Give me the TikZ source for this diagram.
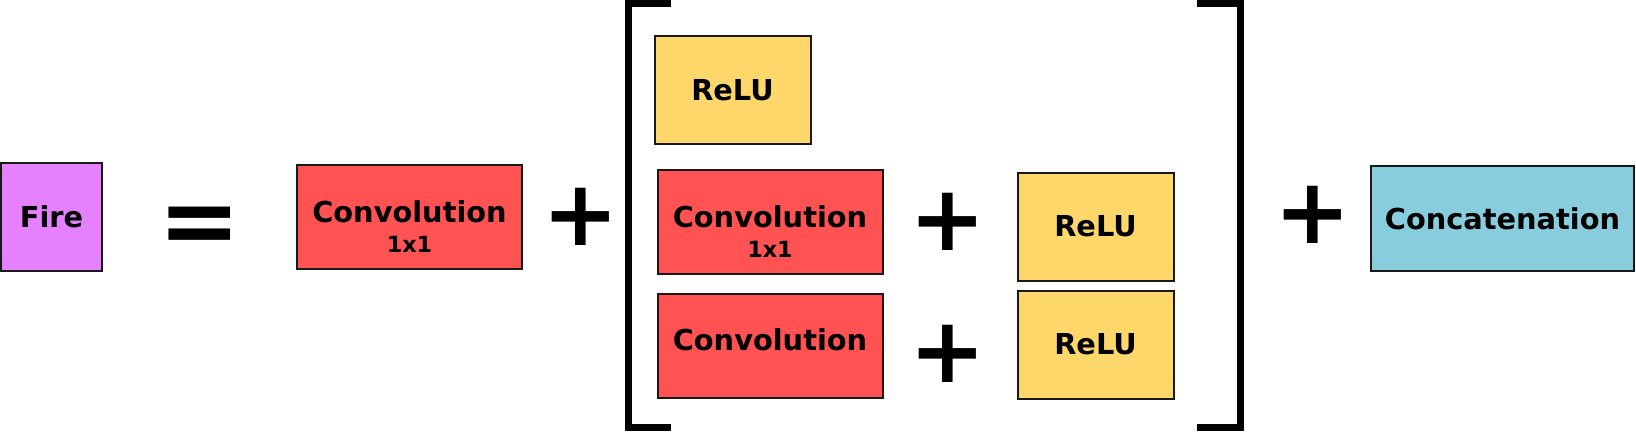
\documentclass[tikz,border=0pt]{standalone}
\usepackage{xcolor}
\usepackage{fontspec}
\setmainfont{DejaVu Sans}
\usetikzlibrary{positioning}

\definecolor{fireViolet}{HTML}{E580FF}
\definecolor{convRed}{HTML}{FF5252}
\definecolor{reluYellow}{HTML}{FDD76A}
\definecolor{concatBlue}{HTML}{87CDDE}

\begin{document}
\begin{tikzpicture}[
        node distance=3cm,
        boxNode/.style={rectangle, draw=black!90, line width=0.04cm, inner sep=0pt,
        align=center, font=\fontsize{16.4}{18}\selectfont\bfseries},
        fireNode/.style={boxNode, fill=fireViolet, minimum width=2.02cm, minimum height=2.16cm},
        convNode/.style={boxNode, fill=convRed, minimum width=4.5cm, minimum height=2.08cm, text depth=0.22cm},
        sizeNode/.style={inner sep=0pt, font=\fontsize{12.7}{14}\selectfont\bfseries},
        reluNode/.style={boxNode, fill=reluYellow, minimum width=3.12cm, minimum height=2.16cm},
        concatNode/.style={boxNode, fill=concatBlue, minimum width=5.26cm, minimum height=2.1cm},
        signNode/.style={inner sep=0pt, font=\fontsize{52}{52}\selectfont\bfseries},
        bracketLine/.style={line width=0.14cm},
    ]
    \useasboundingbox (0,0) rectangle (32.72,8.62);
    \node[fireNode]   (fire)                                                       at (1.03,4.28) {Fire};
    \node[signNode]   (equalsSign) [node distance=2.97cm, right of=fire, yshift=-0.27cm, font=\fontsize{56}{56}\selectfont\bfseries] {=};
    \node[convNode]   (convA)      [node distance=4.19cm, right of=equalsSign, yshift=0.27cm]   {Convolution};
    \node[sizeNode]   (convASize)  [below=0.37cm of convA.center]                               {1x1};
    \node[signNode]   (plusA)      [node distance=3.43cm, right of=convA]                       {+};
    \node[convNode]   (convB)      [node distance=3.78cm, right of=plusA, yshift=-0.1cm]        {Convolution};
    \node[sizeNode]   (convBSize)  [below=0.37cm of convB.center]                               {1x1};
    \node[reluNode]   (reluA)      [above=0.48cm of convB.north west, anchor=south west, xshift=-0.06cm] {ReLU};
    \node[signNode]   (plusB)      [node distance=3.56cm, right of=convB]                       {+};
    \node[reluNode]   (reluB)      [node distance=2.95cm, right of=plusB, yshift=-0.09cm]       {ReLU};
    \node[convNode]   (convC)      [node distance=2.47cm, below of=convB]                       {Convolution};
    \node[signNode]   (plusC)      [node distance=2.64cm, below of=plusB]                       {+};
    \node[reluNode]   (reluC)      [node distance=2.36cm, below of=reluB]                       {ReLU};
    \node[signNode]   (plusD)      [node distance=4.35cm, right of=reluB, yshift=0.23cm]        {+};
    \node[concatNode] (concat)     [node distance=3.79cm, right of=plusD, yshift=-0.07cm]       {Concatenation};
    % brackets
    \draw[bracketLine] (13.42,8.55) -- (12.56,8.55) -- (12.56,0.08) -- (13.42,0.08);
    \draw[bracketLine] (23.94,8.55) -- (24.80,8.55) -- (24.80,0.08) -- (23.94,0.08);
\end{tikzpicture}
\end{document}
